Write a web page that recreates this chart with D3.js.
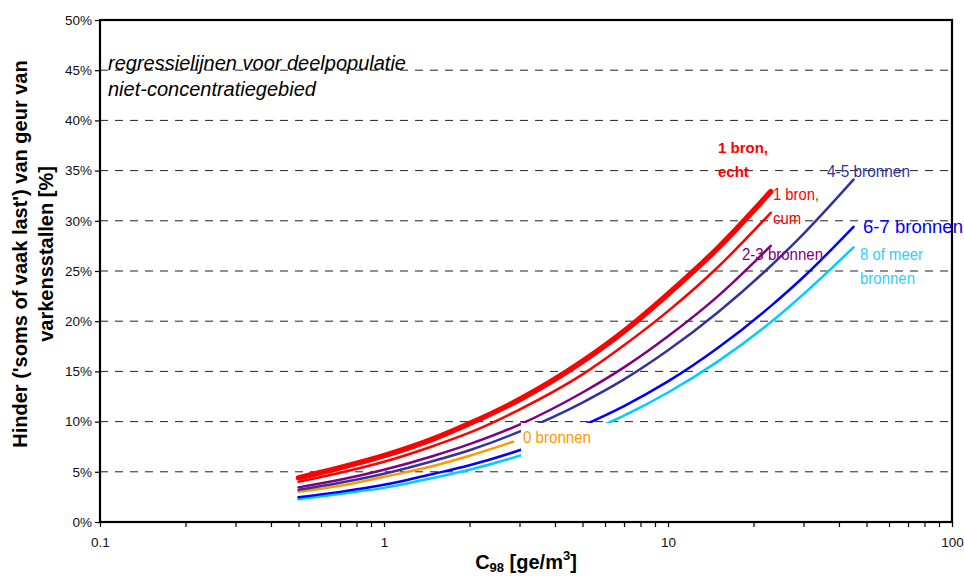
<!DOCTYPE html>
<html>
<head>
<meta charset="utf-8">
<script src="https://cdn.jsdelivr.net/npm/d3@7"></script>
<style>
  html, body { margin: 0; padding: 0; background: #fff; }
  svg { display: block; font-family: "Liberation Sans", Arial, sans-serif; }
</style>
</head>
<body>
<svg id="chart" width="964" height="576"></svg>
<script>
// Concentration points (ge/m3) at which each regression line is tabulated
const xShort = [0.5, 0.7, 1, 1.5, 2, 3, 5, 7, 10, 15, 23];
const xLong  = [0.5, 0.7, 1, 1.5, 2, 3, 5, 7, 10, 15, 23, 30, 45];
const xZero  = [0.5, 0.7, 1, 1.5, 2, 2.85];

// Annoyance percentages per number of sources
const bron1Echt = [4.4, 5.4, 6.6, 8.3, 9.8, 12.2, 16.0, 19.0, 22.7, 27.3, 32.9];
const bron1Cum  = [4.0, 4.9, 6.0, 7.6, 8.9, 11.2, 14.7, 17.6, 21.0, 25.4, 30.8];
const bron23    = [3.45, 4.2, 5.2, 6.6, 7.75, 9.7, 12.9, 15.4, 18.5, 22.5, 27.5];
const bron45    = [3.2, 3.9, 4.8, 6.1, 7.15, 9.0, 11.9, 14.2, 17.1, 20.9, 25.5, 28.7, 34.1];
const bron0     = [3.0, 3.6, 4.5, 5.6, 6.6, 8.0];
const bron67    = [2.46, 3.0, 3.7, 4.8, 5.65, 7.15, 9.6, 11.55, 14.0, 17.35, 21.5, 24.4, 29.4];
const bron8     = [2.26, 2.8, 3.4, 4.4, 5.2, 6.6, 8.8, 10.6, 12.9, 16.0, 19.9, 22.7, 27.35];

// Tick values and labels
const yTicks = [0, 5, 10, 15, 20, 25, 30, 35, 40, 45, 50];
const xMajor = [0.1, 1, 10, 100];
const xMajorLabels = ["0.1", "1", "10", "100"];
const xMinorFactors = [2, 3, 4, 5, 6, 7, 8, 9];

const svg = d3.select("#chart");
const plotL = 100, plotR = 952, plotT = 20, plotB = 522;

const x = d3.scaleLog().domain([0.1, 100]).range([plotL, plotR]);
const y = d3.scaleLinear().domain([0, 50]).range([plotB, plotT]);

// Horizontal dashed gridlines
svg.append("g").selectAll("line")
  .data(yTicks.filter(v => v > 0 && v < 50))
  .join("line")
  .attr("x1", plotL).attr("x2", plotR)
  .attr("y1", d => y(d)).attr("y2", d => y(d))
  .attr("stroke", "#222").attr("stroke-width", 1)
  .attr("stroke-dasharray", "8,7");

// Series
const series = [
  { xs: xZero,  ys: bron0,     color: "#FF9900", w: 2.5 },
  { xs: xLong,  ys: bron8,     color: "#00CCFF", w: 2.5 },
  { xs: xLong,  ys: bron67,    color: "#0000FF", w: 2.5 },
  { xs: xLong,  ys: bron45,    color: "#333399", w: 2.5 },
  { xs: xShort, ys: bron23,    color: "#800080", w: 2.5 },
  { xs: xShort, ys: bron1Cum,  color: "#FF0000", w: 2.5 },
  { xs: xShort, ys: bron1Echt, color: "#FF0000", w: 5.5 }
];

const line = d3.line()
  .x(d => x(d[0]))
  .y(d => y(d[1]))
  .curve(d3.curveMonotoneX);

svg.append("g").selectAll("path")
  .data(series)
  .join("path")
  .attr("d", s => line(s.xs.map((v, i) => [v, s.ys[i]])))
  .attr("fill", "none")
  .attr("stroke", s => s.color)
  .attr("stroke-width", s => s.w)
  .attr("stroke-linecap", "round")
  .attr("stroke-linejoin", "round");

// Axes
const yAxis = d3.axisLeft(y)
  .tickValues(yTicks)
  .tickFormat(d => d + "%")
  .tickSize(5).tickPadding(3);
const gy = svg.append("g").attr("transform", `translate(${plotL},0)`).call(yAxis);

const xTickVals = [];
xMajor.forEach((m, i) => {
  xTickVals.push(m);
  if (i < xMajor.length - 1) xMinorFactors.forEach(f => xTickVals.push(+(m * f).toPrecision(3)));
});
const xAxis = d3.axisBottom(x)
  .tickValues(xTickVals)
  .tickFormat(d => {
    const i = xMajor.findIndex(m => Math.abs(m - d) < 1e-9);
    return i >= 0 ? xMajorLabels[i] : "";
  })
  .tickSize(5).tickPadding(10);
const gx = svg.append("g").attr("transform", `translate(0,${plotB})`).call(xAxis);

[gx, gy].forEach(g => {
  g.select(".domain").remove();
  g.selectAll(".tick line").attr("stroke", "#000").attr("stroke-width", 1.2);
  g.selectAll(".tick text").attr("fill", "#111")
    .style("font-family", "'Liberation Sans', Arial, sans-serif")
    .style("font-size", "13.5px");
});

// Plot frame
svg.append("rect")
  .attr("x", plotL).attr("y", plotT)
  .attr("width", plotR - plotL).attr("height", plotB - plotT)
  .attr("fill", "none").attr("stroke", "#000").attr("stroke-width", 2.2);

// Series labels (narrow, tall lettering)
function label(txt, lx, ly, color, size, weight, len) {
  const t = svg.append("text")
    .attr("x", lx).attr("y", ly)
    .attr("fill", color)
    .style("font-size", size + "px")
    .style("font-weight", weight || "normal")
    .text(txt);
  if (len) t.attr("textLength", len).attr("lengthAdjust", "spacingAndGlyphs");
  return t;
}

// "0 bronnen" label sits on an opaque white box
svg.append("rect")
  .attr("x", 521).attr("y", 423).attr("width", 91).attr("height", 35)
  .attr("fill", "#fff");
label("0 bronnen", 523, 443, "#FF9900", 16.5, null, 68);

label("1 bron,", 718, 153, "#FF0000", 15, "bold");
label("echt", 718, 177, "#FF0000", 15, "bold");
label("1 bron,", 773, 200, "#FF0000", 16.5, null, 46);
label("cum", 773, 224, "#FF0000", 16.5, null, 28);
label("4-5 bronnen", 827, 177, "#333399", 16.5, null, 83);
label("2-3 bronnen", 742, 260, "#800080", 16.5, null, 81);
label("6-7 bronnen", 863, 233, "#0000FF", 18, null, 100);
label("8 of meer", 860, 260, "#33CCFF", 16.5, null, 63);
label("bronnen", 860, 284, "#33CCFF", 16.5, null, 55);

// Annotation
svg.append("text").attr("x", 108).attr("y", 70)
  .style("font-size", "20px").style("font-style", "italic").attr("fill", "#000")
  .text("regressielijnen voor deelpopulatie");
svg.append("text").attr("x", 108).attr("y", 96)
  .style("font-size", "20px").style("font-style", "italic").attr("fill", "#000")
  .text("niet-concentratiegebied");

// Axis titles
const yt = svg.append("text")
  .attr("transform", "rotate(-90)")
  .attr("text-anchor", "middle")
  .style("font-size", "20px").style("font-weight", "bold");
yt.append("tspan").attr("x", -254).attr("y", 27).text("Hinder ('soms of vaak last') van geur van");
yt.append("tspan").attr("x", -254).attr("y", 53).text("varkensstallen [%]");

const xt = svg.append("text")
  .attr("x", 526).attr("y", 569)
  .attr("text-anchor", "middle")
  .style("font-size", "20px").style("font-weight", "bold");
xt.append("tspan").text("C");
xt.append("tspan").attr("dy", 3).style("font-size", "13px").text("98");
xt.append("tspan").attr("dy", -3).text(" [ge/m");
xt.append("tspan").attr("dy", -9).style("font-size", "13px").text("3");
xt.append("tspan").attr("dy", 9).text("]");
</script>
</body>
</html>
